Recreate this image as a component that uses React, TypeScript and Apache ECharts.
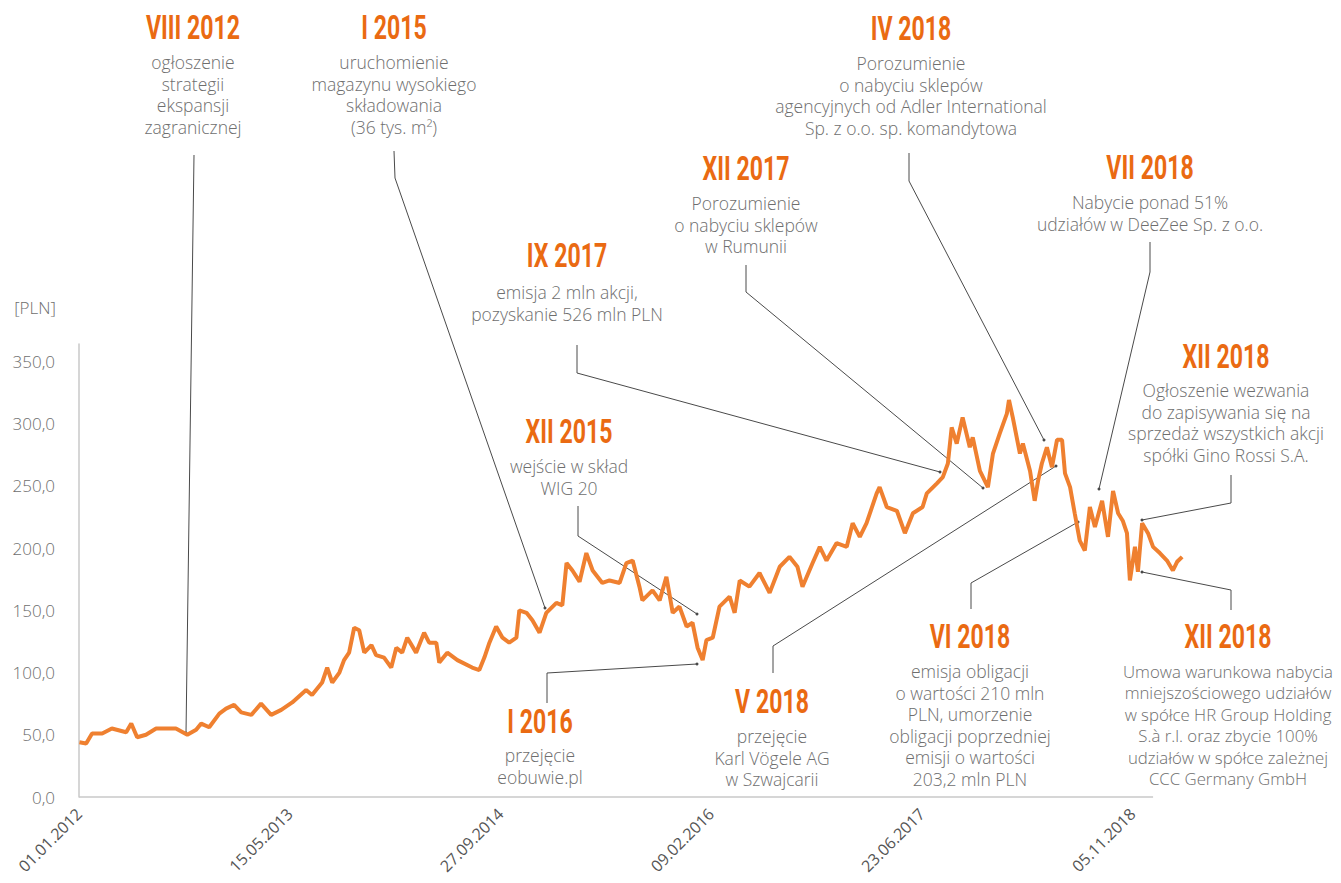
import React, { useEffect, useRef } from 'react';
import * as echarts from 'echarts';

const dates = ['2012-01-02','2012-01-18','2012-02-01','2012-02-25','2012-03-19','2012-04-22','2012-05-04','2012-05-18','2012-06-08','2012-07-02','2012-07-26','2012-08-18','2012-09-14','2012-10-05','2012-10-17','2012-11-05','2012-11-29','2012-12-15',
'2013-01-03','2013-01-20','2013-02-13','2013-03-08','2013-04-01','2013-04-25','2013-05-21','2013-06-23','2013-07-07','2013-07-31','2013-08-12','2013-08-24','2013-09-10','2013-09-21','2013-10-03','2013-10-15','2013-10-27','2013-11-08','2013-11-25','2013-12-06','2013-12-25',
'2014-01-11','2014-01-23','2014-02-06','2014-02-18','2014-03-11','2014-03-30','2014-04-11','2014-04-28','2014-05-05','2014-05-24','2014-06-17','2014-07-22','2014-08-08','2014-08-20','2014-09-01','2014-09-17','2014-10-02','2014-10-18','2014-11-04','2014-11-11','2014-11-28','2014-12-12','2014-12-29',
'2015-01-14','2015-02-07','2015-02-21','2015-03-03','2015-03-17','2015-04-03','2015-04-19','2015-05-04','2015-05-27','2015-06-13','2015-07-07','2015-07-23','2015-08-07','2015-08-23','2015-08-30','2015-09-23','2015-10-10','2015-10-26','2015-11-10','2015-11-26','2015-12-13','2015-12-27',
'2016-01-08','2016-01-20','2016-01-29','2016-02-13','2016-02-29','2016-03-24','2016-04-05','2016-04-17','2016-05-10','2016-06-03','2016-06-27','2016-07-21','2016-08-13','2016-09-01','2016-09-13','2016-10-07','2016-10-24','2016-11-09','2016-12-03','2016-12-27',
'2017-01-10','2017-01-27','2017-02-12','2017-03-08','2017-03-15','2017-04-01','2017-04-25','2017-05-14','2017-06-02','2017-06-25','2017-07-05','2017-07-29','2017-08-12','2017-08-24','2017-09-02','2017-09-14','2017-09-28','2017-10-15','2017-10-22','2017-11-08','2017-11-27','2017-12-09','2017-12-25',
'2018-01-11','2018-01-16','2018-01-25','2018-02-11','2018-02-18','2018-03-07','2018-03-18','2018-03-26','2018-04-04','2018-04-16','2018-04-28','2018-05-10','2018-05-22','2018-05-29','2018-06-10','2018-06-21','2018-07-03','2018-07-15','2018-07-27','2018-08-08','2018-08-25','2018-09-08','2018-09-20','2018-10-02','2018-10-13','2018-10-23','2018-10-30','2018-11-11','2018-11-18','2018-11-28','2018-12-12','2018-12-24',
'2019-01-09','2019-01-26','2019-02-09','2019-02-19','2019-03-03'];

const prices = [44,43,51,51,55,52,59,48,50,55,55,55,50,54,59,56,67,71,
74,68,66,75,66,70,76,86,82,92,104,92,100,110,116,136,134,116,122,114,112,
104,120,116,128,116,132,124,124,108,116,110,104,102,112,124,137,128,124,128,150,148,142,132,
148,156,154,188,182,173,196,182,172,174,172,188,190,169,158,166,158,177,148,153,137,140,
120,110,126,128,153,161,148,174,169,180,164,185,193,185,169,188,201,190,204,201,
220,209,220,244,249,233,230,212,228,233,244,252,257,268,297,284,305,281,289,262,249,276,292,
308,319,305,276,284,262,238,254,268,281,265,287,287,260,249,228,206,198,233,217,238,209,246,228,222,212,174,201,181,220,212,201,
196,190,182,189,193];

const axisStart = '2012-01-01';
const axisVisibleEndDay = 2549;
const axisScaleEndDay = 2620;
const tickDays = 500;
const yMax = 364;
const yStep = 50;

const eventTitles = ['VIII 2012','I 2015','XII 2015','I 2016','IX 2017','XII 2017','IV 2018','VII 2018','XII 2018','V 2018','VI 2018','XII 2018'];
const eventTexts = [
  ['ogłoszenie','strategii','ekspansji','zagranicznej'],
  ['uruchomienie','magazynu wysokiego','składowania','(36 tys. m²)'],
  ['wejście w skład','WIG 20'],
  ['przejęcie','eobuwie.pl'],
  ['emisja 2 mln akcji,','pozyskanie 526 mln PLN'],
  ['Porozumienie','o nabyciu sklepów','w Rumunii'],
  ['Porozumienie','o nabyciu sklepów','agencyjnych od Adler International','Sp. z o.o. sp. komandytowa'],
  ['Nabycie ponad 51%','udziałów w DeeZee Sp. z o.o.'],
  ['Ogłoszenie wezwania','do zapisywania się na','sprzedaż wszystkich akcji','spółki Gino Rossi S.A.'],
  ['przejęcie','Karl Vögele AG','w Szwajcarii'],
  ['emisja obligacji','o wartości 210 mln','PLN, umorzenie','obligacji poprzedniej','emisji o wartości','203,2 mln PLN'],
  ['Umowa warunkowa nabycia','mniejszościowego udziałów','w spółce HR Group Holding','S.à r.l. oraz zbycie 100%','udziałów w spółce zależnej','CCC Germany GmbH'],
];

// layout of annotation blocks: center x, title center y, first description line center y, body font size, leader points
const eventLayout = [
  { cx: 193, ty: 28, dy: 62, fs: 17.5, leader: [[194, 155], [186, 733]] },
  { cx: 394, ty: 28, dy: 62, fs: 17.5, leader: [[394, 151], [395, 178], [545, 608]] },
  { cx: 569, ty: 432, dy: 466, fs: 17.5, leader: [[578, 506], [578, 536], [697, 614]] },
  { cx: 540, ty: 722, dy: 755, fs: 17.5, leader: [[547, 703], [547, 673], [697, 664]] },
  { cx: 567, ty: 256, dy: 292, fs: 17.5, leader: [[577, 345], [577, 373], [940, 472]] },
  { cx: 746, ty: 169, dy: 203, fs: 17.5, leader: [[746, 265], [746, 292], [983, 488]] },
  { cx: 911, ty: 29, dy: 63, fs: 17.5, leader: [[909, 153], [909, 181], [1044, 440]] },
  { cx: 1150, ty: 168, dy: 202, fs: 17.5, leader: [[1150, 242], [1150, 272], [1099, 489]] },
  { cx: 1226, ty: 357, dy: 390, fs: 17.5, leader: [[1231, 475], [1231, 503], [1142, 520]] },
  { cx: 772, ty: 702, dy: 736, fs: 17.5, leader: [[773, 673], [773, 646], [1056, 466]] },
  { cx: 970, ty: 637, dy: 671, fs: 17.5, leader: [[971, 609], [971, 583], [1078, 522]] },
  { cx: 1228, ty: 637, dy: 671, fs: 16.8, leader: [[1231, 610], [1231, 590], [1142, 572]] },
];

const DAY = 86400000;
const baseMs = Date.parse(axisStart + 'T00:00:00Z');
const toDay = (s: string) => Math.round((Date.parse(s + 'T00:00:00Z') - baseMs) / DAY);
const fmtDay = (d: number) => {
  const dt = new Date(baseMs + d * DAY);
  const dd = String(dt.getUTCDate()).padStart(2, '0');
  const mm = String(dt.getUTCMonth() + 1).padStart(2, '0');
  return dd + '.' + mm + '.' + dt.getUTCFullYear();
};

const TITLE_FONT = "Roboto, 'Liberation Sans', sans-serif";
const BODY_FONT = "'Open Sans', 'Noto Sans', sans-serif";
const ORANGE = '#EA6A12';
const LINE_ORANGE = '#EF8030';
const GRAY_TEXT = '#6e6e6e';
const AXIS_GRAY = '#c8c8c8';

const GRID_LEFT = 79;
const GRID_TOP = 344;
const GRID_BOTTOM = 86;
const GRID_RIGHT = 158;

export default function App() {
  const ref = useRef<HTMLDivElement>(null);
  useEffect(() => {
    if (!ref.current) return;
    const chart = echarts.init(ref.current, undefined, { renderer: 'svg' });
    const seriesData = dates.map((d, i) => [toDay(d), prices[i]]);

    const option: any = {
      animation: false,
      backgroundColor: '#ffffff',
      grid: { left: GRID_LEFT, right: GRID_RIGHT, top: GRID_TOP, bottom: GRID_BOTTOM, containLabel: false },
      xAxis: {
        type: 'value',
        min: 0,
        max: axisScaleEndDay,
        interval: tickDays,
        axisLine: { show: false },
        axisTick: { show: false },
        splitLine: { show: false },
        axisLabel: {
          rotate: 45,
          margin: 14,
          fontSize: 16,
          fontFamily: BODY_FONT,
          color: '#555555',
          showMaxLabel: false,
          formatter: (v: number) => (v % tickDays === 0 ? fmtDay(v) : ''),
        },
      },
      yAxis: {
        type: 'value',
        min: 0,
        max: yMax,
        interval: yStep,
        axisLine: { show: true, lineStyle: { color: AXIS_GRAY, width: 1.5 } },
        axisTick: { show: false },
        splitLine: { show: false },
        axisLabel: {
          margin: 24,
          fontSize: 17,
          fontFamily: BODY_FONT,
          fontWeight: 300,
          color: GRAY_TEXT,
          showMaxLabel: false,
          formatter: (v: number) => (v % yStep === 0 ? v.toFixed(1).replace('.', ',') : ''),
        },
      },
      series: [
        {
          type: 'line',
          data: seriesData,
          showSymbol: false,
          lineStyle: { color: LINE_ORANGE, width: 4 },
          itemStyle: { color: LINE_ORANGE },
        },
      ],
    };
    chart.setOption(option);

    // visible x-axis line ends before the last data points, as in the original
    const p0 = chart.convertToPixel({ gridIndex: 0 }, [0, 0]) as number[];
    const p1 = chart.convertToPixel({ gridIndex: 0 }, [axisVisibleEndDay, 0]) as number[];

    const graphics: any[] = [];
    graphics.push({
      type: 'line',
      shape: { x1: p0[0], y1: p0[1], x2: p1[0], y2: p1[1] },
      style: { stroke: AXIS_GRAY, lineWidth: 1.5 },
      z: 0,
    });
    graphics.push({
      type: 'text', x: 35, y: 307,
      style: { text: '[PLN]', align: 'center', verticalAlign: 'middle', fontSize: 17, fontFamily: BODY_FONT, fontWeight: 300, fill: GRAY_TEXT },
    });
    eventLayout.forEach((L, i) => {
      graphics.push({
        type: 'text', x: L.cx, y: L.ty, scaleX: 0.7,
        style: { text: eventTitles[i], align: 'center', verticalAlign: 'middle', fontSize: 33, fontFamily: TITLE_FONT, fontWeight: 'bold', fill: ORANGE },
      });
      graphics.push({
        type: 'text', x: L.cx, y: L.dy - 10.75,
        style: { text: eventTexts[i].join('\n'), align: 'center', verticalAlign: 'top', fontSize: L.fs, lineHeight: 21.5, fontFamily: BODY_FONT, fontWeight: 300, fill: GRAY_TEXT },
      });
      graphics.push({
        type: 'polyline',
        shape: { points: L.leader },
        style: { stroke: '#4a4a4a', lineWidth: 1, fill: 'none' },
        silent: true,
      });
      const end = L.leader[L.leader.length - 1];
      graphics.push({
        type: 'circle', shape: { cx: end[0], cy: end[1], r: 1.5 },
        style: { fill: '#4a4a4a' },
      });
    });
    chart.setOption({ graphic: graphics });
    return () => chart.dispose();
  }, []);
  return <div ref={ref} style={{ position: 'fixed', left: 0, top: 0, width: 1341, height: 883 }} />;
}
